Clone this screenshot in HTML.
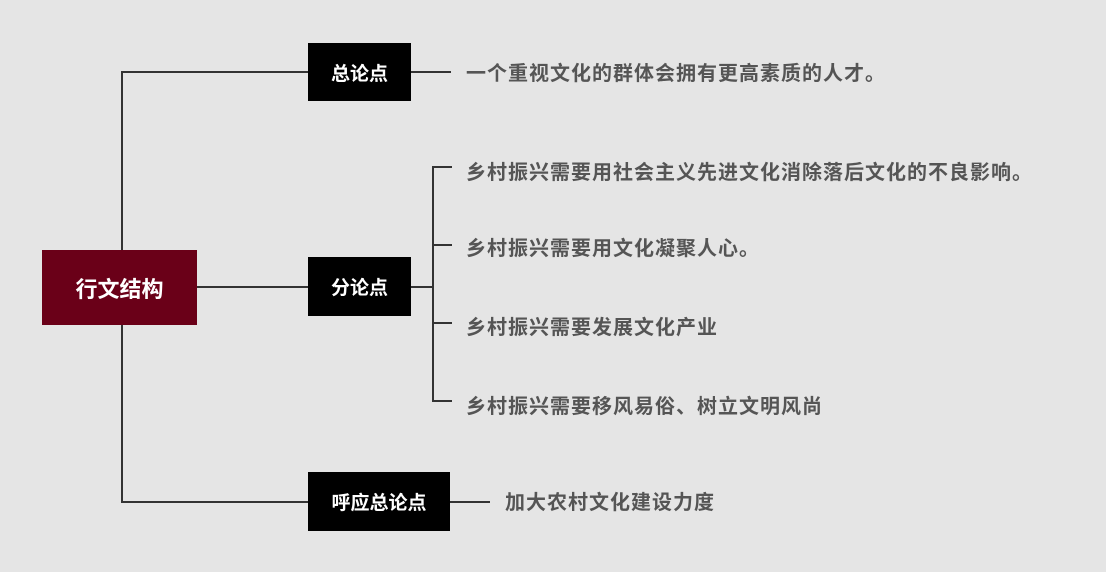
<!DOCTYPE html>
<html><head><meta charset="utf-8"><style>
body{margin:0;width:1106px;height:578px;background:#fff;overflow:hidden;font-family:"Liberation Sans","Noto Sans CJK SC",sans-serif}
#bg{position:absolute;left:0;top:0;width:1106px;height:572px;background:#e5e5e5}
.b{position:absolute;background:#000;color:#fff;font-weight:bold;font-size:19px;display:flex;align-items:center;justify-content:center}
.l{position:absolute;background:#333}
.t{position:absolute;color:#555;font-weight:bold;font-size:20px;letter-spacing:1px;white-space:nowrap;line-height:24px}
</style></head><body><div id="bg"></div>
<div class="l" style="left:121px;top:72px;width:2px;height:430px"></div>
<div class="l" style="left:121px;top:71px;width:188px;height:2px"></div>
<div class="l" style="left:196px;top:286px;width:113px;height:2px"></div>
<div class="l" style="left:121px;top:501px;width:188px;height:2px"></div>
<div class="l" style="left:410px;top:71px;width:41px;height:2px"></div>
<div class="l" style="left:410px;top:286px;width:23px;height:2px"></div>
<div class="l" style="left:432px;top:166px;width:2px;height:236px"></div>
<div class="l" style="left:432px;top:166px;width:20px;height:2px"></div>
<div class="l" style="left:432px;top:244px;width:20px;height:2px"></div>
<div class="l" style="left:432px;top:322px;width:20px;height:2px"></div>
<div class="l" style="left:432px;top:400px;width:20px;height:2px"></div>
<div class="l" style="left:449px;top:501px;width:41px;height:2px"></div>
<div class="b" style="left:42px;top:250px;width:155px;height:75px;background:#6a0018;font-size:22px">行文结构</div>
<div class="b" style="left:308px;top:43px;width:103px;height:58px">总论点</div>
<div class="b" style="left:308px;top:257px;width:103px;height:59px">分论点</div>
<div class="b" style="left:308px;top:472px;width:142px;height:59px">呼应总论点</div>
<div class="t" style="left:466px;top:62px">一个重视文化的群体会拥有更高素质的人才。</div>
<div class="t" style="left:466px;top:161px">乡村振兴需要用社会主义先进文化消除落后文化的不良影响。</div>
<div class="t" style="left:466px;top:237px">乡村振兴需要用文化凝聚人心。</div>
<div class="t" style="left:466px;top:316px">乡村振兴需要发展文化产业</div>
<div class="t" style="left:466px;top:395px">乡村振兴需要移风易俗、树立文明风尚</div>
<div class="t" style="left:505px;top:491px">加大农村文化建设力度</div>
</body></html>
